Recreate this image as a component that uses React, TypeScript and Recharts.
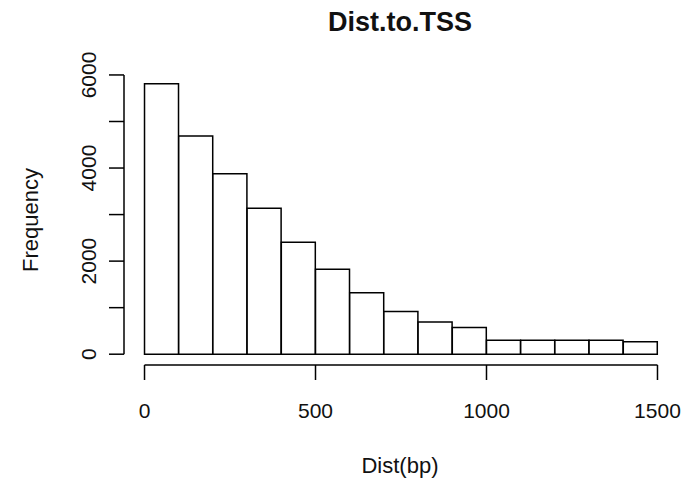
import { BarChart, Bar, XAxis, YAxis, ReferenceLine } from "recharts";

// histogram of distance to TSS, 100bp bins
const BIN_MIDS = [50, 150, 250, 350, 450, 550, 650, 750, 850, 950, 1050, 1150, 1250, 1350, 1450];
const COUNTS = [5810, 4690, 3875, 3135, 2405, 1825, 1320, 920, 690, 575, 300, 300, 300, 300, 265];
const X_TICKS = [0, 500, 1000, 1500];
const Y_TICKS = [0, 1000, 2000, 3000, 4000, 5000, 6000];
const Y_LABELED = [0, 2000, 4000, 6000];

const X_DOMAIN = [-60, 1560];
const Y_DOMAIN = [-232, 6042];

const data = BIN_MIDS.map((mid, i) => ({ mid, count: COUNTS[i] }));

const FONT = "'Liberation Sans', Arial, sans-serif";
const INK = "#000";

function YTick(props: any) {
    const { x, y, payload } = props;
    if (!Y_LABELED.includes(payload.value)) return <g />;
    return (
        <text
            x={x}
            y={y}
            transform={`rotate(-90 ${x} ${y})`}
            textAnchor="middle"
            fontSize={21}
            fontFamily={FONT}
            fill="#111"
        >
            {payload.value}
        </text>
    );
}

export default function App() {
    return (
        <div style={{ position: "absolute", left: 0, top: 0, width: 686, height: 481, background: "#fff" }}>
            <BarChart
                width={686}
                height={481}
                data={data}
                margin={{ top: 73, right: 8, bottom: 0, left: 0 }}
                barCategoryGap={0}
                barGap={0}
            >
                <XAxis
                    dataKey="mid"
                    type="number"
                    domain={X_DOMAIN}
                    ticks={X_TICKS}
                    height={116}
                    axisLine={false}
                    tickSize={15}
                    tickMargin={23}
                    tickLine={{ stroke: INK, strokeWidth: 1.5 }}
                    tick={{ fontSize: 21, fontFamily: FONT, fill: "#111" }}
                    interval={0}
                />
                <YAxis
                    type="number"
                    domain={Y_DOMAIN}
                    ticks={Y_TICKS}
                    width={124}
                    axisLine={false}
                    tickSize={15}
                    tickMargin={13}
                    tickLine={{ stroke: INK, strokeWidth: 1.5 }}
                    tick={<YTick />}
                    interval={0}
                />
                <Bar dataKey="count" fill="#fff" stroke={INK} strokeWidth={1.5} isAnimationActive={false} />
                <ReferenceLine
                    segment={[{ x: X_TICKS[0], y: Y_DOMAIN[0] }, { x: X_TICKS[X_TICKS.length - 1], y: Y_DOMAIN[0] }]}
                    stroke={INK}
                    strokeWidth={1.5}
                    ifOverflow="visible"
                />
                <ReferenceLine
                    segment={[{ x: X_DOMAIN[0], y: Y_TICKS[0] }, { x: X_DOMAIN[0], y: Y_TICKS[Y_TICKS.length - 1] }]}
                    stroke={INK}
                    strokeWidth={1.5}
                    ifOverflow="visible"
                />
            </BarChart>
            <svg
                width={686}
                height={481}
                style={{ position: "absolute", left: 0, top: 0, pointerEvents: "none" }}
                fontFamily={FONT}
            >
                <text x={400} y={31} textAnchor="middle" fontSize={27} fontWeight="bold" fill="#111">
                    Dist.to.TSS
                </text>
                <text x={400} y={473} textAnchor="middle" fontSize={22} fill="#111">
                    Dist(bp)
                </text>
                <text x={38} y={220} textAnchor="middle" fontSize={22} fill="#111" transform="rotate(-90 38 220)">
                    Frequency
                </text>
            </svg>
        </div>
    );
}
